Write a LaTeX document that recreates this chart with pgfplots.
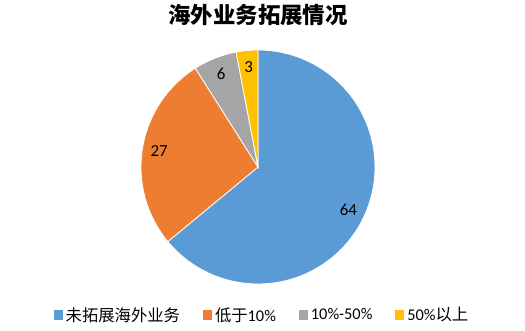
\documentclass[border=0pt]{standalone}
\usepackage{fontspec}
\setmainfont{Carlito}
\newfontfamily\cjk{Noto Sans CJK SC}
\usepackage{pgfplots}
\usepackage{pgfplotstable}
\pgfplotsset{compat=1.18}
\definecolor{cA}{HTML}{5B9BD5}
\definecolor{cB}{HTML}{ED7D31}
\definecolor{cC}{HTML}{A5A5A5}
\definecolor{cD}{HTML}{FFC000}
\pgfplotstableread{
value
64
27
6
3
}\piedata
\pgfplotstablegetelem{0}{value}\of\piedata \let\vA\pgfplotsretval
\pgfplotstablegetelem{1}{value}\of\piedata \let\vB\pgfplotsretval
\pgfplotstablegetelem{2}{value}\of\piedata \let\vC\pgfplotsretval
\pgfplotstablegetelem{3}{value}\of\piedata \let\vD\pgfplotsretval
\pgfmathsetmacro{\aA}{90}
\pgfmathsetmacro{\aB}{\aA-3.6*\vA}
\pgfmathsetmacro{\aC}{\aB-3.6*\vB}
\pgfmathsetmacro{\aD}{\aC-3.6*\vC}
\pgfmathsetmacro{\aE}{\aD-3.6*\vD}
\def\cx{258}
\def\cy{164}
\def\R{117}
\def\Rl{100}
\pgfmathsetmacro{\lAx}{\cx+\Rl*cos((\aA+\aB)/2)}\pgfmathsetmacro{\lAy}{\cy+\Rl*sin((\aA+\aB)/2)}
\pgfmathsetmacro{\lBx}{\cx+\Rl*cos((\aB+\aC)/2)}\pgfmathsetmacro{\lBy}{\cy+\Rl*sin((\aB+\aC)/2)}
\pgfmathsetmacro{\lCx}{\cx+\Rl*cos((\aC+\aD)/2)}\pgfmathsetmacro{\lCy}{\cy+\Rl*sin((\aC+\aD)/2)}
\pgfmathsetmacro{\lDx}{\cx+\Rl*cos((\aD+\aE)/2)}\pgfmathsetmacro{\lDy}{\cy+\Rl*sin((\aD+\aE)/2)}
\begin{document}
\begin{tikzpicture}
\begin{axis}[
  scale only axis, width=525bp, height=331bp,
  xmin=0, xmax=525, ymin=0, ymax=331,
  hide axis, clip=false,
  legend columns=4,
  legend style={at={(axis cs:262,16)}, anchor=center, draw=none, fill=none,
    font=\fontsize{16.4}{18}\selectfont, inner sep=0pt,
    /tikz/every odd column/.append style={column sep=1bp},
    /tikz/every even column/.append style={column sep=21bp}},
  legend cell align=left,
  legend image code/.code={\fill[#1,draw=none] (0bp,-4.5bp) rectangle (9bp,4.5bp);},
]
\addplot[fill=cA, draw=white, line width=0.8pt, domain=\aA:\aB, samples=100, variable=\t]
  ({\cx+\R*cos(\t)},{\cy+\R*sin(\t)}) -- (axis cs:\cx,\cy) -- cycle;
\addlegendentry{{\cjk 未拓展海外业务}}
\addplot[fill=cB, draw=white, line width=0.8pt, domain=\aB:\aC, samples=50, variable=\t]
  ({\cx+\R*cos(\t)},{\cy+\R*sin(\t)}) -- (axis cs:\cx,\cy) -- cycle;
\addlegendentry{{\cjk 低于}10\%}
\addplot[fill=cC, draw=white, line width=0.8pt, domain=\aC:\aD, samples=20, variable=\t]
  ({\cx+\R*cos(\t)},{\cy+\R*sin(\t)}) -- (axis cs:\cx,\cy) -- cycle;
\addlegendentry{10\%-50\%}
\addplot[fill=cD, draw=white, line width=0.8pt, domain=\aD:\aE, samples=10, variable=\t]
  ({\cx+\R*cos(\t)},{\cy+\R*sin(\t)}) -- (axis cs:\cx,\cy) -- cycle;
\addlegendentry{50\%{\cjk 以上}}
\node[font=\fontsize{17}{19}\selectfont] at (axis cs:\lAx,\lAy) {\vA};
\node[font=\fontsize{17}{19}\selectfont] at (axis cs:\lBx,\lBy) {\vB};
\node[font=\fontsize{17}{19}\selectfont] at (axis cs:\lCx,\lCy) {\vC};
\node[font=\fontsize{17}{19}\selectfont] at (axis cs:\lDx,\lDy) {\vD};
\node[font=\cjk\bfseries\fontsize{22.5}{24}\selectfont] at (axis cs:258,316) {海外业务拓展情况};
\end{axis}
\pgfresetboundingbox
\path[use as bounding box] (0,0) rectangle (525bp,331bp);
\end{tikzpicture}
\end{document}
